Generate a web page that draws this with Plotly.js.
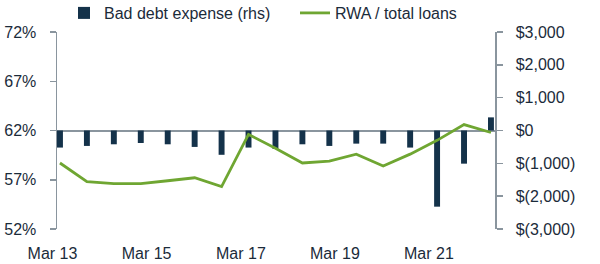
<!DOCTYPE html>
<html>
<head>
<meta charset="utf-8">
<script src="https://cdn.plot.ly/plotly-3.0.1.min.js"></script>
<style>html,body{margin:0;padding:0;background:#fff;}#chart{width:600px;height:264px;}</style>
</head>
<body>
<div id="chart"></div>
<script>
// Half-yearly periods, Mar 13 .. Mar 21
const periods = ["Mar 13","Sep 13","Mar 14","Sep 14","Mar 15","Sep 15","Mar 16","Sep 16","Mar 17","Sep 17","Mar 18","Sep 18","Mar 19","Sep 19","Mar 20","Sep 20","Mar 21"];
// Bad debt expense ($m, rhs)
const badDebt = [-520,-470,-420,-380,-420,-500,-740,-520,-560,-420,-470,-400,-400,-520,-2320,-1010,400];
// RWA / total loans (%, lhs)
const rwaRatio = [58.7,56.8,56.6,56.6,56.9,57.2,56.3,61.6,60.2,58.7,58.9,59.6,58.4,59.6,61.0,62.6,61.8];
// Axis tick labels
const xTickText = ["Mar 13","Mar 15","Mar 17","Mar 19","Mar 21"];
const xTickPos = [0.835,4.33,7.83,11.32,14.81];
const leftTickVals = [52,57,62,67,72];
const leftTickText = ["52%","57%","62%","67%","72%"];
const rightTickVals = [-3000,-2000,-1000,0,1000,2000,3000];
const rightTickText = ["$(3,000)","$(2,000)","$(1,000)","$0","$1,000","$2,000","$3,000"];

const xIdx = periods.map((_, i) => i);
const txt = '#1b2b3a';
const axisGrey = '#8a959e';

const traces = [
  {
    type: 'bar', name: 'Bad debt expense (rhs)',
    x: xIdx, y: badDebt, yaxis: 'y', width: 0.22,
    marker: {color: '#14324a'}, legend: 'legend',
    hovertext: periods
  },
  {
    type: 'scatter', mode: 'lines', name: 'RWA / total loans',
    x: xIdx, y: rwaRatio, yaxis: 'y2',
    line: {color: '#6fa632', width: 2.8}, legend: 'legend2',
    hovertext: periods
  }
];

const legendBase = {
  orientation: 'h', xref: 'container', yref: 'container',
  y: 1 - 13 / 264, xanchor: 'left', yanchor: 'middle',
  font: {size: 16, color: txt}, bgcolor: 'rgba(0,0,0,0)'
};

const layout = {
  width: 600, height: 264,
  margin: {l: 57, r: 105, t: 32, b: 35, autoexpand: false},
  paper_bgcolor: '#fff', plot_bgcolor: 'rgba(0,0,0,0)',
  font: {family: 'Liberation Sans, Arial, sans-serif', size: 16, color: txt},
  showlegend: true,
  legend: Object.assign({}, legendBase, {x: 64 / 600}),
  legend2: Object.assign({}, legendBase, {x: 295 / 600}),
  xaxis: {
    range: [-0.11, 16.15], showgrid: false, zeroline: false, showline: false,
    tickmode: 'array', tickvals: xTickPos, ticktext: xTickText,
    ticks: '', ticklabelstandoff: 13, ticklabelshift: -30
  },
  yaxis: {
    side: 'right', range: [-3000, 3000],
    tickmode: 'array', tickvals: rightTickVals, ticktext: rightTickText,
    showgrid: false, showline: true, linecolor: axisGrey, linewidth: 1.5,
    ticks: 'outside', ticklen: 6, tickcolor: axisGrey, tickwidth: 1.5,
    zeroline: true, zerolinecolor: axisGrey, zerolinewidth: 2,
    ticklabelstandoff: 10
  },
  yaxis2: {
    overlaying: 'y', side: 'left', range: [52, 72],
    tickmode: 'array', tickvals: leftTickVals, ticktext: leftTickText,
    showgrid: false, zeroline: false, showline: true, linecolor: axisGrey, linewidth: 1.5,
    ticks: 'outside', ticklen: 6, tickcolor: axisGrey, tickwidth: 1.5,
    ticklabelstandoff: 10
  }
};

Plotly.newPlot('chart', traces, layout, {displayModeBar: false, staticPlot: true});
</script>
</body>
</html>
